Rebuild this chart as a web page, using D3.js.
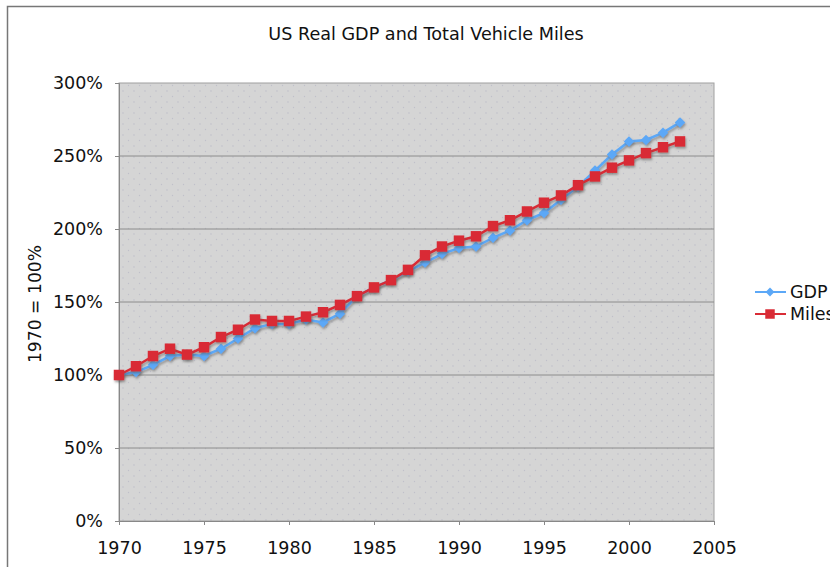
<!DOCTYPE html>
<html>
<head>
<meta charset="utf-8">
<style>
  body { margin: 0; background: #fff; }
  svg text { font-family: "DejaVu Sans", sans-serif; fill: #111; }
</style>
</head>
<body>
<svg id="chart" width="830" height="567"></svg>
<script src="https://cdnjs.cloudflare.com/ajax/libs/d3/7.8.5/d3.min.js"></script>
<script>
  // values (1970 = 100%)
  const years = d3.range(1970, 2004)
  const gdp = [100, 102, 107, 113, 114, 113, 118, 125, 132, 135, 135, 138, 136, 142,
               154, 160, 165, 171, 177, 183, 187, 188, 194, 199, 206, 211, 220, 229,
               240, 251, 260, 261, 266, 273]
  const miles = [100, 106, 113, 118, 114, 119, 126, 131, 138, 137, 137, 140, 143, 148,
                 154, 160, 165, 172, 182, 188, 192, 195, 202, 206, 212, 218, 223, 230,
                 236, 242, 247, 252, 256, 260]
  const xTicks = [1970, 1975, 1980, 1985, 1990, 1995, 2000, 2005]
  const yTicks = [0, 50, 100, 150, 200, 250, 300]

  const m = { left: 119, right: 714, top: 83, bottom: 521 }
  const svg = d3.select('#chart')

  const x = d3.scaleLinear().domain([1970, 2005]).range([m.left, m.right])
  const y = d3.scaleLinear().domain([0, 300]).range([m.bottom, m.top])

  // outer frame
  svg.append('rect')
      .attr('x', 7.5).attr('y', 6.5)
      .attr('width', 840).attr('height', 600)
      .attr('fill', 'none').attr('stroke', '#777').attr('stroke-width', 1.5)

  // dotted plot texture
  const defs = svg.append('defs')
  const pat = defs.append('pattern')
      .attr('id', 'dots').attr('width', 11).attr('height', 11)
      .attr('patternUnits', 'userSpaceOnUse')
  pat.append('rect').attr('width', 11).attr('height', 11).attr('fill', '#d5d5d5')
  pat.append('circle').attr('cx', 2).attr('cy', 3).attr('r', 0.7).attr('fill', '#bcbcc8')
  pat.append('circle').attr('cx', 7.5).attr('cy', 8.5).attr('r', 0.7).attr('fill', '#c0c0ca')

  const shadow = defs.append('filter').attr('id', 'sh')
      .attr('x', '-50%').attr('y', '-50%').attr('width', '200%').attr('height', '200%')
  shadow.append('feDropShadow')
      .attr('dx', 1).attr('dy', 2).attr('stdDeviation', 1)
      .attr('flood-color', '#555').attr('flood-opacity', 0.5)

  svg.append('rect')
      .attr('x', m.left).attr('y', m.top)
      .attr('width', m.right - m.left).attr('height', m.bottom - m.top)
      .attr('fill', 'url(#dots)').attr('stroke', '#a0a0a0')

  // gridlines
  svg.append('g').selectAll('line')
      .data(yTicks.filter(d => d > 0 && d < 300))
    .enter().append('line')
      .attr('x1', m.left).attr('x2', m.right)
      .attr('y1', d => y(d)).attr('y2', d => y(d))
      .attr('stroke', '#8c8c8c').attr('stroke-width', 1)

  // axes
  const yAxis = svg.append('g')
      .attr('transform', `translate(${m.left},0)`)
      .call(d3.axisLeft(y).tickValues(yTicks).tickFormat(d => d + '%').tickSize(4).tickPadding(12))
  const xAxis = svg.append('g')
      .attr('transform', `translate(0,${m.bottom})`)
      .call(d3.axisBottom(x).tickValues(xTicks).tickFormat(d3.format('d')).tickSize(4).tickPadding(17))
  for (const a of [yAxis, xAxis]) {
    a.select('.domain').attr('stroke', '#888')
    a.selectAll('.tick line').attr('stroke', '#888')
    a.selectAll('text').attr('font-size', 17.5).attr('fill', '#111')
      .attr('font-family', '"DejaVu Sans", sans-serif')
  }

  // title and y label
  svg.append('text')
      .attr('x', 426).attr('y', 40)
      .attr('text-anchor', 'middle').attr('font-size', 17.6)
      .text('US Real GDP and Total Vehicle Miles')
  svg.append('text')
      .attr('transform', `translate(41,${304}) rotate(-90)`)
      .attr('text-anchor', 'middle').attr('font-size', 17.2)
      .text('1970 = 100%')

  const series = [
    { name: 'GDP', values: gdp, color: '#5ca8f7', shape: d3.symbolDiamond2 },
    { name: 'Miles', values: miles, color: '#d92c36', shape: d3.symbolSquare }
  ]
  const line = d3.line().x((d, i) => x(years[i])).y(d => y(d))

  series.forEach(s => {
    const g = svg.append('g')
    g.append('path')
        .datum(s.values)
        .attr('d', line)
        .attr('fill', 'none').attr('stroke', s.color).attr('stroke-width', 2.5)
        .attr('filter', 'url(#sh)')
    g.selectAll('path.pt')
        .data(s.values)
      .enter().append('path')
        .attr('class', 'pt')
        .attr('transform', (d, i) => `translate(${x(years[i])},${y(d)})`)
        .attr('d', d3.symbol().type(s.shape).size(s.name === 'GDP' ? 70 : 110))
        .attr('fill', s.color)
        .attr('filter', 'url(#sh)')
  })

  // legend
  const leg = svg.append('g')
  series.forEach((s, i) => {
    const ly = 292 + i * 22
    leg.append('line')
        .attr('x1', 755).attr('x2', 786).attr('y1', ly).attr('y2', ly)
        .attr('stroke', s.color).attr('stroke-width', 2)
    leg.append('path')
        .attr('transform', `translate(770,${ly})`)
        .attr('d', d3.symbol().type(s.shape).size(s.name === 'GDP' ? 50 : 90))
        .attr('fill', s.color)
    leg.append('text')
        .attr('x', 790).attr('y', ly).attr('dy', '0.36em')
        .attr('font-size', 17.5)
        .text(s.name)
  })
</script>
</body>
</html>
